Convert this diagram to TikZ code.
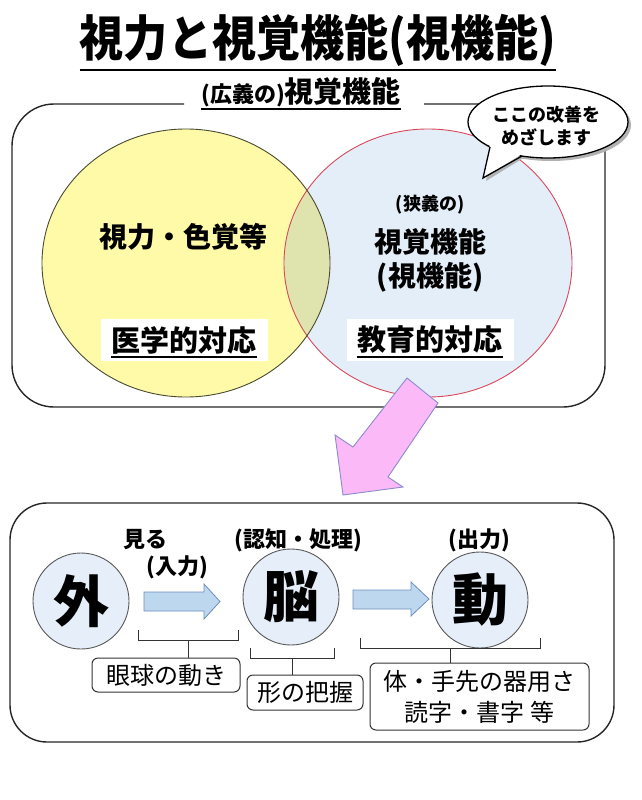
\documentclass[tikz,border=0pt]{standalone}
\usepackage{fontspec}
\setmainfont{Noto Sans CJK JP}
\usetikzlibrary{shapes.geometric}
\definecolor{yelfill}{HTML}{FFFAA8}
\definecolor{bluefill}{HTML}{E4EEF9}
\definecolor{midfill}{HTML}{DFE4AE}
\definecolor{redline}{HTML}{D9485A}
\definecolor{yelline}{HTML}{4A4A30}
\definecolor{circfill}{HTML}{E6EEF9}
\definecolor{arrfill}{HTML}{BDD7EE}
\definecolor{arrline}{HTML}{6C8EBF}
\definecolor{pinkfill}{HTML}{FBB9F7}
\definecolor{pinkline}{HTML}{8A8ACF}
\newcommand\fsz[2]{\fontsize{#1}{#2}\selectfont}
\begin{document}
\begin{tikzpicture}[x=1pt,y=-1pt,
  boxline/.style={draw=black!85, line width=1.4pt},
  bigc/.style={circle, draw=black!65, line width=0.9pt, fill=circfill, minimum size=96pt, inner sep=0pt, font=\fsz{56}{62}\bfseries},
  blockarr/.style={draw=arrline, line width=0.8pt, fill=arrfill},
  brk/.style={draw=black!80, line width=1pt},
  lbox/.style={draw=black!80, line width=1pt, rounded corners=6pt, fill=white, inner sep=2pt, font=\fsz{24}{31}, align=center},
  whitelab/.style={fill=white, inner xsep=11pt, inner ysep=7pt, font=\fsz{29}{34}\bfseries},
  smalllab/.style={font=\fsz{22}{26}\bfseries}]
\useasboundingbox (0,0) rectangle (642,800);

% ---- title ----
\node[inner sep=0pt, font=\fsz{49}{56}\bfseries] (title) at (318,40) {\scalebox{0.9}[1]{視力と視覚機能(視機能)}};
\coordinate (ul) at (0,70);
\draw[line width=2.5pt] (title.west |- ul) -- (title.east |- ul);

% ---- Venn circles ----
\fill[bluefill] (428,263) ellipse [x radius=144pt, y radius=134pt];
\fill[yelfill] (186,263) ellipse [x radius=144pt, y radius=134pt];
\begin{scope}
  \clip (186,263) ellipse [x radius=144pt, y radius=134pt];
  \fill[midfill] (428,263) ellipse [x radius=144pt, y radius=134pt];
\end{scope}
\node[ellipse, draw=redline, line width=0.9pt, minimum width=288pt, minimum height=268pt, inner sep=0pt] (rc) at (428,263) {};
\node[ellipse, draw=yelline, line width=0.9pt, minimum width=288pt, minimum height=268pt, inner sep=0pt] (yc) at (186,263) {};

% ---- outer box with label ----
\node[inner sep=0pt, font=\bfseries] (broad) at (301,92) {{\fsz{22}{26}(広義の)}{\fsz{29}{34}視覚機能}};
\coordinate (ul2) at (0,109);
\draw[line width=1.5pt] (broad.west |- ul2) -- (broad.east |- ul2);
\draw[boxline, rounded corners=42pt] (184,104) -- (12,104) -- (12,407) -- (605,407) -- (605,104) -- (424,104);

% ---- circle texts ----
\node[font=\fsz{28}{34}\bfseries] (ytext) at (183,237) {視力・色覚等};
\node[whitelab] (med) at (184,340) {医学的対応};
\coordinate (ulm) at (0,357);
\draw[line width=1.5pt] ([xshift=11pt]med.west |- ulm) -- ([xshift=-11pt]med.east |- ulm);

\node[font=\fsz{18}{22}\bfseries] (narrow) at (430,205) {(狭義の)};
\node[font=\fsz{28}{34}\bfseries] (vis) at (430,242) {視覚機能};
\node[font=\fsz{28}{34}\bfseries] (vis2) at (430,277) {(視機能)};
\node[whitelab] (edu) at (430,340) {教育的対応};
\draw[line width=1.5pt] ([xshift=11pt]edu.west |- ulm) -- ([xshift=-11pt]edu.east |- ulm);

% ---- speech bubble ----
\coordinate (tA) at (490,145);
\coordinate (tB) at (522,154);
\coordinate (tip) at (483,178);
\fill[black!30] (551,125) ellipse [x radius=80pt, y radius=36pt];
\fill[black!30] ([shift={(3,3)}]tA) -- ([shift={(3,3)}]tip) -- ([shift={(3,3)}]tB) -- cycle;
\draw[fill=white, line width=1.3pt] (548,122) ellipse [x radius=80pt, y radius=36pt];
\fill[white] (tA) -- (tip) -- (tB) -- cycle;
\draw[line width=1.3pt] ([shift={(0,2)}]tA) -- (tip) -- ([shift={(0,2)}]tB);
\node[font=\fsz{18}{23}\bfseries, align=center] (bubtext) at (546,126) {ここの改善を\\めざします};

% ---- pink arrow ----
\draw[draw=pinkline, line width=0.9pt, fill=pinkfill]
  (407,378) -- (438,403) -- (388,477) -- (403,487) -- (343,495) -- (335,435) -- (353,447) -- cycle;

% ---- bottom box ----
\draw[boxline, rounded corners=37pt] (10,503) rectangle (614,742);

\node[bigc] (soto) at (81,601) {外};
\node[bigc] (nou) at (291,597) {脳};
\node[bigc] (dou) at (480,600) {動};

\draw[blockarr] (144,592) -- (204,592) -- (204,584) -- (220,601.5) -- (204,619) -- (204,611) -- (144,611) -- cycle;
\draw[blockarr] (353,590) -- (411,590) -- (411,582) -- (429,599) -- (411,616) -- (411,609) -- (353,609) -- cycle;

\node[smalllab] (miru) at (145,540) {見る};
\node[smalllab] (nyu) at (177,567) {(入力)};
\node[smalllab] (ninchi) at (298,540) {(認知・処理)};
\node[smalllab] (shutsu) at (479,540) {(出力)};

% ---- labels and brackets ----
\node[lbox, minimum width=148pt, minimum height=34pt] (b1) at (166,675) {眼球の動き};
\node[lbox, minimum width=116pt, minimum height=35pt] (b2) at (305,692.5) {形の把握};
\node[lbox, minimum width=219pt, minimum height=67pt] (b3) at (479.5,696.5) {体・手先の器用さ\\読字・書字 等};

\draw[brk] (138,630) -- (138,640) -- (238,640) -- (238,630);
\coordinate (s1) at (188,640);
\draw[brk] (s1) -- (s1 |- b1.north);

\draw[brk] (250,648) -- (250,658) -- (334,658) -- (334,648);
\coordinate (s2) at (292,658);
\draw[brk] (s2) -- (s2 |- b2.north);

\draw[brk] (360,638) -- (360,648) -- (540,648) -- (540,638);
\coordinate (s3) at (450,648);
\draw[brk] (s3) -- (s3 |- b3.north);
\end{tikzpicture}
\end{document}
